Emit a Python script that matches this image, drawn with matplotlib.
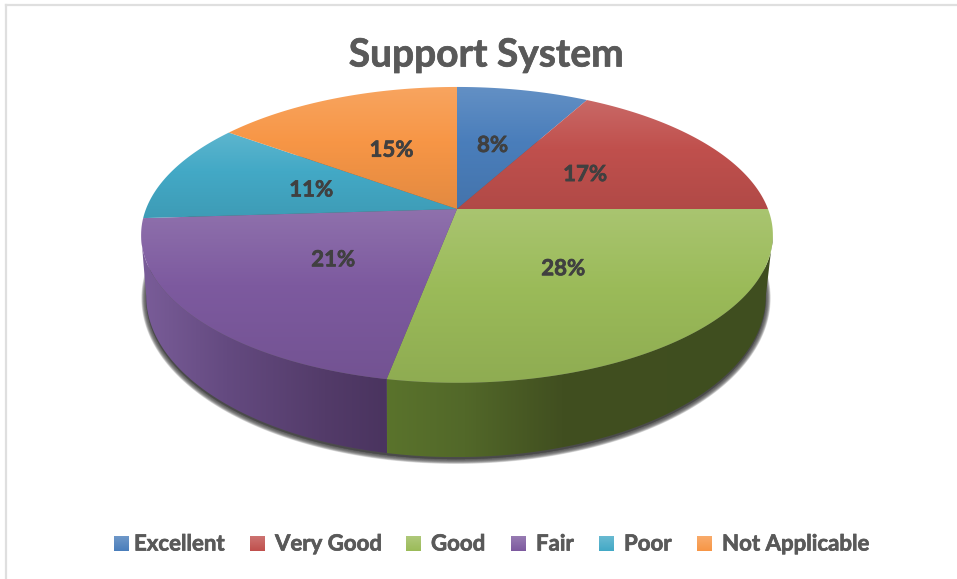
import numpy as np
import matplotlib
matplotlib.use('Agg')
import matplotlib.pyplot as plt
import matplotlib.patheffects as pe
from matplotlib.colors import LinearSegmentedColormap, to_rgb
from matplotlib.patches import Polygon

categories = ['Excellent', 'Very Good', 'Good', 'Fair', 'Poor', 'Not Applicable']
shares = [8, 17, 28, 21, 11, 15]
base_colors = ['#4a7ebb', '#c0504d', '#9bbb59', '#7d5a9f', '#43a9c6', '#f79646']

# legend layout in pixels: swatch left edge, text left edge
legend_swatch_x = [114, 250, 406, 511, 599, 697]
legend_text_x = [134, 275, 431, 536, 624, 722]

# perspective disc: top face and floor of the cylinder
CX = 457
TILT = 0.175
TOP_CY, TOP_A, TOP_B = 209, 311, 143.4
BOT_CX, BOT_CY, BOT_A, BOT_B = 456, 268, 305, 156

WALL_COLORS = {
    2: [(0.0, '#5a732c'), (0.2, '#526829'), (0.45, '#414f20'), (1.0, '#3f4e1f')],
    3: [(0.0, '#7a5d99'), (0.35, '#644a80'), (0.75, '#533b69'), (1.0, '#4a345f')],
}


def project(theta_deg, radius, cx, cy, a, b):
    t = np.radians(theta_deg)
    s, c = radius * np.sin(t), radius * np.cos(t)
    den = 1 + TILT * c
    return cx + a * s / den, cy - b * c / den


def top_point(theta_deg, radius=1.0):
    return project(theta_deg, radius, CX, TOP_CY, TOP_A, TOP_B)


def bottom_point(theta_deg):
    return project(theta_deg, 1.0, BOT_CX, BOT_CY, BOT_A, BOT_B)


def shade(color, amount):
    # amount > 0 blends towards white, amount < 0 towards black
    rgb = np.array(to_rgb(color))
    if amount >= 0:
        return tuple(rgb + (1 - rgb) * amount)
    return tuple(rgb * (1 + amount))


def gradient_fill(ax, poly, cmap, horizontal=False):
    xy = np.asarray(poly)
    x0, x1 = xy[:, 0].min(), xy[:, 0].max()
    y0, y1 = xy[:, 1].min(), xy[:, 1].max()
    ramp = np.linspace(0, 1, 256)
    ramp = ramp[None, :] if horizontal else ramp[:, None]
    im = ax.imshow(ramp, cmap=cmap, vmin=0, vmax=1, aspect='auto',
                   extent=(x0, x1, y1, y0), interpolation='bilinear', zorder=3)
    patch = Polygon(xy, closed=True, transform=ax.transData)
    im.set_clip_path(patch)
    return im


def bold_text(ax, x, y, s, size, color, ha='center'):
    # a hairline stroke thickens the bold face a little
    ax.text(x, y, s, ha=ha, va='center', fontsize=size, fontweight='bold',
            family='Lato', color=color, zorder=5,
            path_effects=[pe.withStroke(linewidth=0.5, foreground=color)])


fig = plt.figure(figsize=(9.57, 5.79), dpi=100, facecolor='white')
ax = fig.add_axes([0, 0, 1, 1])
ax.set_axis_off()

# chart frame, only its top and left edges show
ax.plot([6, 6], [5, 579], color='#dfdfdf', lw=1.6, zorder=1)
ax.plot([6, 957], [5, 5], color='#dfdfdf', lw=1.6, zorder=1)

# soft drop shadow under the cylinder
floor = np.array(bottom_point(np.linspace(0, 360, 361))).T + np.array([0, 2])
for lw in np.linspace(7, 0.5, 12):
    ax.add_patch(Polygon(floor, closed=True, facecolor='#4a4a4a', edgecolor='#4a4a4a',
                         lw=lw, alpha=0.16, joinstyle='round', zorder=2))

edges = np.concatenate([[0], np.cumsum(shares)]) * 3.6
tangent = np.degrees(np.arccos(-TILT))
front_start, front_end = tangent, 360 - tangent

# side wall, front part of the rim only
for i in range(len(shares)):
    start, end = max(edges[i], front_start), min(edges[i + 1], front_end)
    if end <= start:
        continue
    th = np.linspace(start, end, 120)
    upper = np.array(top_point(th)).T
    lower = np.array(bottom_point(th)).T
    wall = np.vstack([upper, lower[::-1]])
    cmap = LinearSegmentedColormap.from_list('wall%d' % i, WALL_COLORS[i])
    gradient_fill(ax, wall, cmap, horizontal=True)

# top face, every slice has its own vertical ramp
for i, color in enumerate(base_colors):
    th = np.linspace(edges[i], edges[i + 1], 120)
    rim = np.array(top_point(th)).T
    apex = np.array(top_point(0.0, 0.0))
    poly = np.vstack([apex, rim])
    stops = [(0.0, shade(color, 0.14)), (0.45, color), (1.0, shade(color, -0.08))]
    cmap = LinearSegmentedColormap.from_list('face%d' % i, stops)
    gradient_fill(ax, poly, cmap)

# percentage labels sit halfway along each slice's middle radius
for i, share in enumerate(shares):
    mid = (edges[i] + edges[i + 1]) / 2
    x, y = top_point(mid, 0.5)
    bold_text(ax, x, y + 0.5, '%d%%' % share, 16, '#404040')

bold_text(ax, 486, 55, 'Support System', 28, '#595959')

# legend row
for i, name in enumerate(categories):
    sx = legend_swatch_x[i]
    stops = [(0.0, shade(base_colors[i], 0.2)), (1.0, base_colors[i])]
    cmap = LinearSegmentedColormap.from_list('key%d' % i, stops)
    ramp = np.linspace(0, 1, 32)[:, None]
    ax.imshow(ramp, cmap=cmap, vmin=0, vmax=1, aspect='auto',
              extent=(sx, sx + 15, 551, 536), zorder=3)
    bold_text(ax, legend_text_x[i], 544, name, 16, '#595959', ha='left')

ax.set_xlim(0, 957)
ax.set_ylim(579, 0)

fig.savefig('out.png', dpi=100, facecolor='white')
